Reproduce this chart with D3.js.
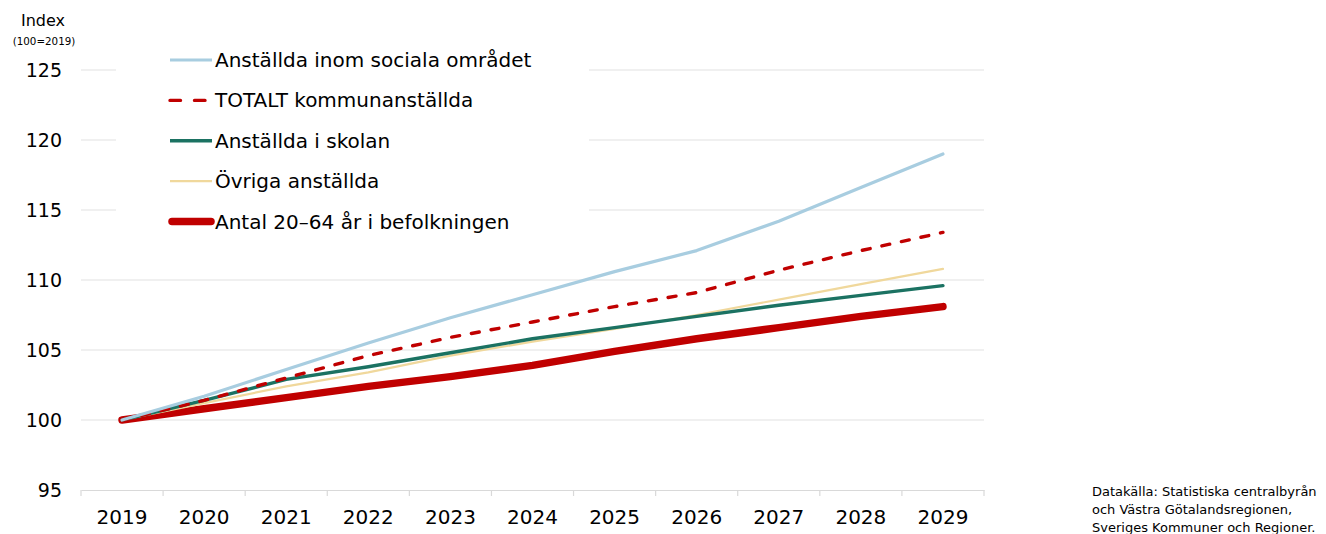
<!DOCTYPE html>
<html>
<head>
<meta charset="utf-8">
<script src="https://cdn.jsdelivr.net/npm/d3@7"></script>
<style>
  body { margin: 0; background: #fff; }
  svg { font-family: "DejaVu Sans", Verdana, sans-serif; }
</style>
</head>
<body>
<svg width="1326" height="534"></svg>
<script>
"use strict";

const years = ["2019", "2020", "2021", "2022", "2023", "2024", "2025", "2026", "2027", "2028", "2029"];
const yTicks = [95, 100, 105, 110, 115, 120, 125];

const social = [100, 101.7, 103.6, 105.5, 107.3, 108.95, 110.6, 112.1, 114.2, 116.6, 119.0];
const totalt = [100, 101.4, 103.0, 104.6, 105.9, 107.0, 108.1, 109.1, 110.7, 112.1, 113.4];
const skolan = [100, 101.4, 102.9, 103.8, 104.8, 105.8, 106.6, 107.4, 108.2, 108.9, 109.6];
const ovriga = [100, 101.2, 102.4, 103.4, 104.6, 105.6, 106.5, 107.5, 108.6, 109.7, 110.8];
const befolkning = [100, 100.8, 101.6, 102.4, 103.1, 103.9, 104.9, 105.8, 106.6, 107.4, 108.1];

const seriesNames = [
    "Anställda inom sociala området",
    "TOTALT kommunanställda",
    "Anställda i skolan",
    "Övriga anställda",
    "Antal 20\u201364 år i befolkningen"
];

const sourceLines = [
    "Datakälla: Statistiska centralbyrån",
    "och Västra Götalandsregionen,",
    "Sveriges Kommuner och Regioner."
];

const series = [
    {name: seriesNames[0], values: social, color: "#a8cde0", width: 3.2, dash: null},
    {name: seriesNames[1], values: totalt, color: "#c00000", width: 3.4, dash: "8,12"},
    {name: seriesNames[2], values: skolan, color: "#1b7262", width: 3.4, dash: null},
    {name: seriesNames[3], values: ovriga, color: "#f0d89c", width: 2.2, dash: null},
    {name: seriesNames[4], values: befolkning, color: "#c00000", width: 7.5, dash: null}
];

const svg = d3.select("svg");

const x = d3.scaleBand().domain(years).range([81, 984]);
const y = d3.scaleLinear().domain([95, 125]).range([490, 70]);

// Grid lines
svg.append("g")
    .selectAll("line")
    .data(yTicks.filter(d => d !== 95))
    .join("line")
    .attr("x1", 81)
    .attr("x2", 984)
    .attr("y1", d => y(d))
    .attr("y2", d => y(d))
    .attr("stroke", "#e2e2e2")
    .attr("stroke-width", 1.2);

// X axis
const xAxis = svg.append("g")
    .attr("transform", `translate(0,${y(95)})`)
    .call(d3.axisBottom(x).tickSize(0).tickPadding(20));
xAxis.select(".domain").attr("stroke", "#d9d9d9").attr("stroke-width", 1.2);
xAxis.selectAll("text").attr("font-size", 20).attr("fill", "#000")
    .attr("font-family", "DejaVu Sans, Verdana, sans-serif");
// Tick marks at category boundaries
xAxis.append("g")
    .selectAll("line")
    .data(years.map(d => x(d)).concat([x(years[years.length - 1]) + x.bandwidth()]))
    .join("line")
    .attr("x1", d => d)
    .attr("x2", d => d)
    .attr("y1", 0)
    .attr("y2", 6)
    .attr("stroke", "#d9d9d9")
    .attr("stroke-width", 1.2);

// Y axis labels
const yAxis = svg.append("g")
    .attr("transform", "translate(62,0)")
    .call(d3.axisLeft(y).tickValues(yTicks).tickSize(0).tickPadding(0));
yAxis.select(".domain").remove();
yAxis.selectAll("text").attr("font-size", 19).attr("fill", "#000")
    .attr("font-family", "DejaVu Sans, Verdana, sans-serif");

svg.append("text")
    .attr("x", 43).attr("y", 26)
    .attr("text-anchor", "middle")
    .attr("font-size", 16)
    .text("Index");
svg.append("text")
    .attr("x", 44).attr("y", 45)
    .attr("text-anchor", "middle")
    .attr("font-size", 10.3)
    .text("(100=2019)");

// Lines
const line = d3.line()
    .x((d, i) => x(years[i]) + x.bandwidth() / 2)
    .y(d => y(d));

// Legend background
svg.append("rect")
    .attr("x", 116).attr("y", 42)
    .attr("width", 473).attr("height", 196)
    .attr("fill", "#fff");

svg.append("g")
    .selectAll("path")
    .data(series.slice().reverse())
    .join("path")
    .attr("d", d => line(d.values))
    .attr("fill", "none")
    .attr("stroke", d => d.color)
    .attr("stroke-width", d => d.width)
    .attr("stroke-dasharray", d => d.dash)
    .attr("stroke-linecap", "round")
    .attr("stroke-linejoin", "round");

// Legend
const legend = svg.append("g")
    .selectAll("g")
    .data(series)
    .join("g")
    .attr("transform", (d, i) => `translate(0,${60 + i * 40.4})`);
legend.append("line")
    .attr("x1", d => d.width > 5 ? 172 : 170)
    .attr("x2", d => d.width > 5 ? 211 : (d.dash ? 207 : 212))
    .attr("y1", 0).attr("y2", 0)
    .attr("stroke", d => d.color)
    .attr("stroke-width", d => d.width)
    .attr("stroke-dasharray", d => d.dash ? "10.5,14" : null)
    .attr("stroke-linecap", d => d.dash || d.width > 5 ? "round" : "butt");
legend.append("text")
    .attr("x", 215)
    .attr("y", 0)
    .attr("dy", "0.35em")
    .attr("font-size", 20)
    .attr("fill", "#000")
    .text(d => d.name);

// Source
svg.append("g")
    .selectAll("text")
    .data(sourceLines)
    .join("text")
    .attr("x", 1092)
    .attr("y", (d, i) => 496 + i * 18)
    .attr("font-size", 13)
    .attr("fill", "#000")
    .text(d => d);
</script>
</body>
</html>
